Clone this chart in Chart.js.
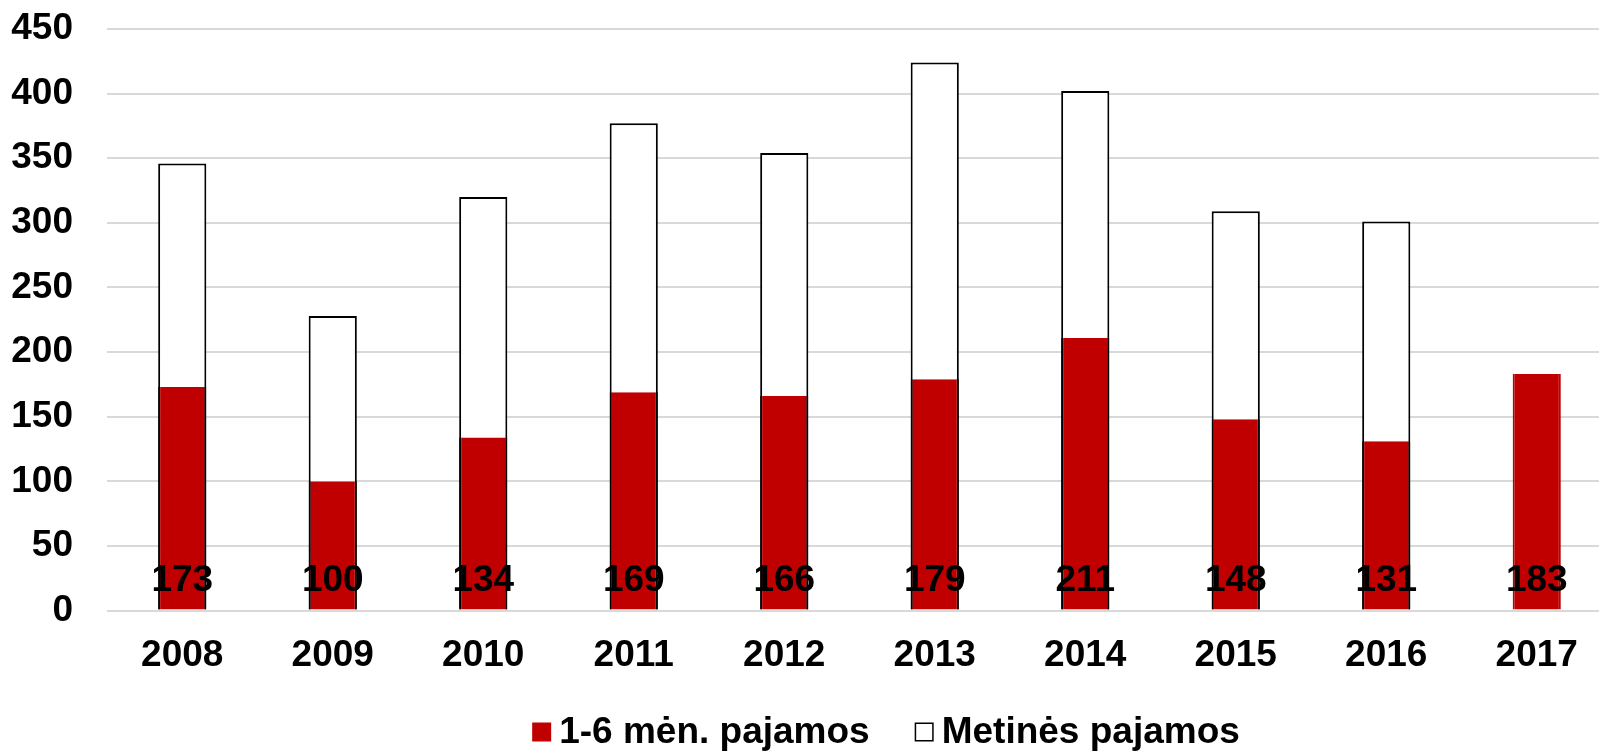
<!DOCTYPE html>
<html>
<head>
<meta charset="utf-8">
<script src="https://cdn.jsdelivr.net/npm/chart.js@4/dist/chart.umd.min.js"></script>
<style>
  html, body { margin: 0; padding: 0; background: #fff; overflow: hidden; }
  #wrap { width: 1612px; height: 751px; }
</style>
</head>
<body>
<div id="wrap"><canvas id="incomeChart" width="1612" height="751"></canvas></div>
<script>
// metai
const years = ['2008', '2009', '2010', '2011', '2012', '2013', '2014', '2015', '2016', '2017'];
// 1-6 mėn. pajamos
const halfYear = [173, 100, 134, 169, 166, 179, 211, 148, 131, 183];
// metinės pajamos (2017 dar nėra)
const annual = [346, 228, 320, 377, 354, 424, 402, 309, 301, null];
const yTicks = [0, 50, 100, 150, 200, 250, 300, 350, 400, 450];
const seriesNames = ['1-6 mėn. pajamos', 'Metinės pajamos'];

const RED = '#c00000';
const FAMILY = '"Liberation Sans", Arial, sans-serif';
const FONT = { family: FAMILY, size: 37, weight: 'bold' };

// skaičiai bazinėje stulpelių dalyje
const baseLabels = {
    id: 'baseLabels',
    afterDatasetsDraw(chart) {
        const ctx = chart.ctx;
        const meta = chart.getDatasetMeta(0);
        const y = chart.scales.y.getPixelForValue(0) - 30;
        ctx.save();
        ctx.font = 'bold 37px ' + FAMILY;
        ctx.fillStyle = '#000';
        ctx.textAlign = 'center';
        ctx.textBaseline = 'middle';
        meta.data.forEach(function(bar, i) {
            ctx.fillText(String(halfYear[i]), bar.x, y);
        });
        ctx.restore();
    }
};

// legenda apačioje (kaip originale, su mažu tarpu tarp kvadrato ir teksto)
const bottomLegend = {
    id: 'bottomLegend',
    afterDraw(chart) {
        const ctx = chart.ctx;
        const box = 19, gap = 8, sep = 45;
        const cy = 732;
        ctx.save();
        ctx.font = 'bold 37px ' + FAMILY;
        ctx.textBaseline = 'middle';
        ctx.textAlign = 'left';
        const w1 = ctx.measureText(seriesNames[0]).width;
        const w2 = ctx.measureText(seriesNames[1]).width;
        const total = box + gap + w1 + sep + box + gap + w2;
        let x = 886 - total / 2;
        ctx.fillStyle = RED;
        ctx.fillRect(x, cy - box / 2, box, box);
        ctx.fillStyle = '#000';
        ctx.fillText(seriesNames[0], x + box + gap, cy + 1);
        x += box + gap + w1 + sep;
        ctx.fillStyle = '#fff';
        ctx.fillRect(x, cy - box / 2, box, box);
        ctx.strokeStyle = '#000';
        ctx.lineWidth = 1.5;
        ctx.strokeRect(x + 0.75, cy - box / 2 + 0.75, box - 1.5, box - 1.5);
        ctx.fillStyle = '#000';
        ctx.fillText(seriesNames[1], x + box + gap, cy + 1);
        ctx.restore();
    }
};

new Chart(document.getElementById('incomeChart'), {
    type: 'bar',
    data: {
        labels: years,
        datasets: [{
            label: seriesNames[0],
            data: halfYear,
            backgroundColor: RED,
            borderColor: function(c) { return annual[c.dataIndex] != null ? '#000' : RED; },
            borderWidth: { left: 2, right: 2, top: 0, bottom: 0 },
            borderSkipped: false,
            categoryPercentage: 1,
            barPercentage: 0.32
        }, {
            label: seriesNames[1],
            data: annual,
            backgroundColor: '#fff',
            borderColor: '#000',
            borderWidth: 2,
            borderSkipped: 'bottom',
            categoryPercentage: 1,
            barPercentage: 0.32
        }]
    },
    options: {
        responsive: false,
        animation: false,
        layout: { padding: { top: 29, left: 0, right: 0, bottom: 58 } },
        plugins: {
            tooltip: { enabled: false },
            legend: { display: false }
        },
        scales: {
            x: {
                stacked: true,
                grid: { display: false },
                border: { display: false },
                ticks: { font: FONT, color: '#000', padding: 15, maxRotation: 0 }
            },
            y: {
                stacked: false,
                min: 0,
                max: 450,
                afterFit: function(scale) {
                    scale.width = 107;
                    scale.paddingTop = 0;
                    scale.paddingBottom = 0;
                },
                afterBuildTicks: function(scale) { scale.ticks = yTicks.map(function(v) { return { value: v }; }); },
                grid: { color: '#d9d9d9', lineWidth: 2, drawTicks: false },
                border: { display: false },
                ticks: { font: FONT, color: '#000', padding: 34 }
            }
        }
    },
    plugins: [baseLabels, bottomLegend]
});
</script>
</body>
</html>
